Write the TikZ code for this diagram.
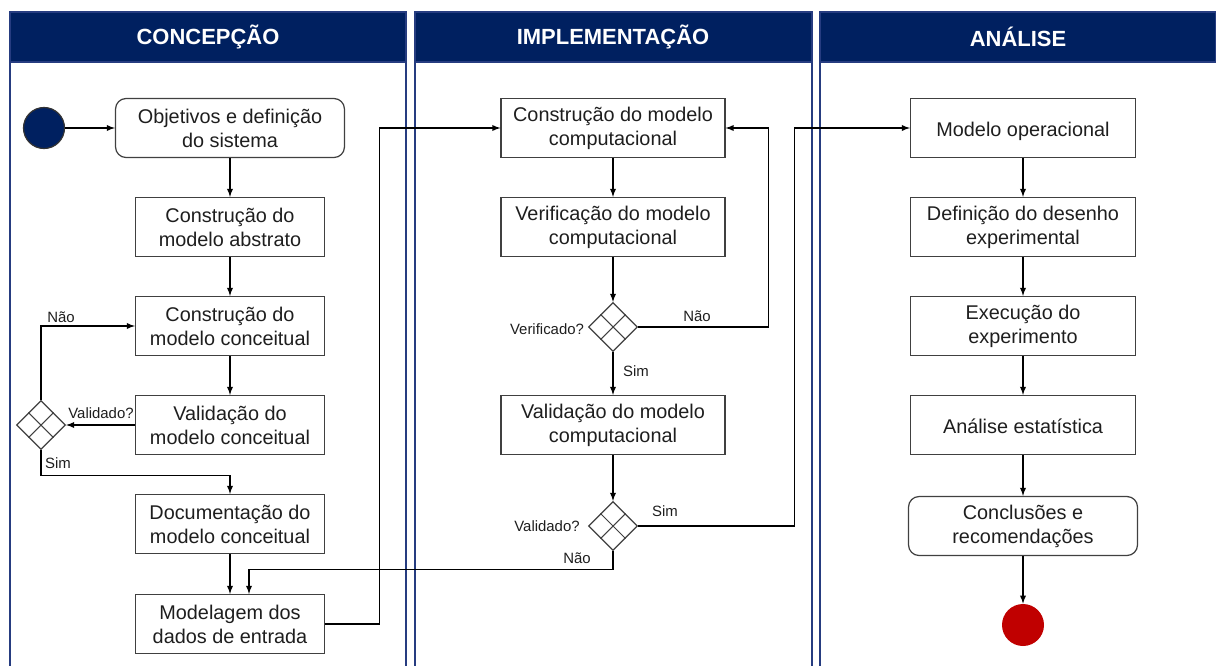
\documentclass[tikz,border=0pt]{standalone}
\usepackage{fontspec}
\setmainfont{Liberation Sans}
\usepackage{tikz}
\usetikzlibrary{arrows,shapes,positioning,calc}
\usepackage{xcolor}
\definecolor{lanenavy}{RGB}{0,32,96}
\definecolor{laneline}{RGB}{38,60,128}
\definecolor{boxgray}{RGB}{64,64,64}
\definecolor{textgray}{RGB}{30,30,30}
\definecolor{endred}{RGB}{192,0,0}
\tikzstyle{lane} = [draw=laneline, line width=0.8pt]
\tikzstyle{header} = [fill=lanenavy, draw=laneline, line width=0.8pt]
\tikzstyle{headtext} = [text=white, font=\bfseries\fontsize{12.5}{15}\selectfont]
\tikzstyle{activity} = [rectangle, minimum width=3.78cm, minimum height=1.18cm, align=center, draw=boxgray, line width=0.7pt, text=textgray]
\tikzstyle{terminal} = [activity, rounded corners=6pt, minimum width=4.58cm]
\tikzstyle{decision} = [diamond, aspect=1, minimum width=0.98cm, minimum height=0.98cm, inner sep=0pt, draw=boxgray, line width=0.7pt]
\tikzstyle{guard} = [font=\fontsize{8.5}{10}\selectfont, inner sep=0pt, text=textgray]
\tikzstyle{arrow} = [line width=0.6pt,->,>=latex]
\tikzstyle{line} = [line width=0.6pt]

\begin{document}
\begin{tikzpicture}[x=0.02cm, y=-0.02cm, every node/.style={font=\fontsize{11.3}{13.6}\selectfont}]
\useasboundingbox (0,0) rectangle (1216,666);

% Lanes
\draw[lane] (10,62) -- (10,666) (406,62) -- (406,666);
\draw[lane] (415,62) -- (415,666) (812,62) -- (812,666);
\draw[lane] (820,62) -- (820,666);
\draw[header] (10,12) rectangle (406,62);
\draw[header] (415,12) rectangle (812,62);
\draw[header] (820,12) rectangle (1216,62);
\node[headtext] (h1) at (208,37) {CONCEPÇÃO};
\node[headtext] (h2) at (613,37) {IMPLEMENTAÇÃO};
\node[headtext] (h3) at (1018,37) {ANÁLISE};

% Concepcao
\node[circle, minimum size=0.82cm, fill=lanenavy, draw=black!80, line width=0.7pt] (start) at (44,128) {};
\node[terminal] (obj) at (230,128) {Objetivos e definição\\do sistema};
\node[activity] (abst) at (230,227) {Construção do\\modelo abstrato};
\node[activity] (conc) at (230,326) {Construção do\\modelo conceitual};
\node[activity] (valc) at (230,425) {Validação do\\modelo conceitual};
\node[decision] (dc) at (41,425) {};
\node[activity] (doc) at (230,524) {Documentação do\\modelo conceitual};
\node[activity] (dados) at (230,624) {Modelagem dos\\dados de entrada};

% Implementacao
\node[activity, minimum width=4.48cm] (cons) at (613,128) {Construção do modelo\\computacional};
\node[activity, minimum width=4.48cm] (verif) at (613,227) {Verificação do modelo\\computacional};
\node[decision] (dv) at (613,327) {};
\node[activity, minimum width=4.48cm] (valcomp) at (613,425) {Validação do modelo\\computacional};
\node[decision] (dval) at (613,526) {};

% Analise
\node[activity, minimum width=4.5cm, text height=11.7pt, text depth=2.5pt] (oper) at (1023,128) {Modelo operacional};
\node[activity, minimum width=4.5cm] (des) at (1023,227) {Definição do desenho\\experimental};
\node[activity, minimum width=4.5cm] (exec) at (1023,326) {Execução do\\experimento};
\node[activity, minimum width=4.5cm, text height=11.7pt, text depth=2.5pt] (anal) at (1023,425) {Análise estatística};
\node[terminal] (concl) at (1023,526) {Conclusões e\\recomendações};
\node[circle, minimum size=0.84cm, fill=endred] (fim) at (1023,625) {};

\foreach \d in {dc,dv,dval} {
  \draw[line, boxgray] ($(\d.north)!0.5!(\d.west)$) -- ($(\d.south)!0.5!(\d.east)$);
  \draw[line, boxgray] ($(\d.north)!0.5!(\d.east)$) -- ($(\d.south)!0.5!(\d.west)$);
}

% Guards
\node[guard] (g1) at (101,413) {Validado?};
\node[guard] (g2) at (61,317) {Não};
\node[guard] (g3) at (58,463) {Sim};
\node[guard] (g4) at (547,329) {Verificado?};
\node[guard] (g5) at (697,316) {Não};
\node[guard] (g6) at (636,371) {Sim};
\node[guard] (g7) at (547,526) {Validado?};
\node[guard] (g8) at (665,511) {Sim};
\node[guard] (g9) at (577,558) {Não};

% Connections
\draw[arrow] (start) -- (obj);
\draw[arrow] (obj) -- (abst);
\draw[arrow] (abst) -- (conc);
\draw[arrow] (conc) -- (valc);
\draw[arrow] (valc.west) -- (dc.east);
\draw[arrow] (dc.north) |- (conc.west);
\draw[arrow] (dc.south) -- ++(0,25) -| (doc.north);
\draw[arrow] (doc) -- (dados);
\draw[arrow] (dados.east) -- ++(54,0) |- (cons.west);
\draw[arrow] (cons) -- (verif);
\draw[arrow] (verif) -- (dv);
\draw[arrow] (dv.east) -- ++(130,0) |- (cons.east);
\draw[arrow] (dv) -- (valcomp);
\draw[arrow] (valcomp) -- (dval);
\draw[arrow] (dval.east) -- ++(156,0) |- (oper.west);
\draw[arrow] (dval.south) -- ++(0,18) -| ($(dados.north)+(19,0)$);
\draw[arrow] (oper) -- (des);
\draw[arrow] (des) -- (exec);
\draw[arrow] (exec) -- (anal);
\draw[arrow] (anal) -- (concl);
\draw[arrow] (concl) -- (fim);
\end{tikzpicture}
\end{document}
